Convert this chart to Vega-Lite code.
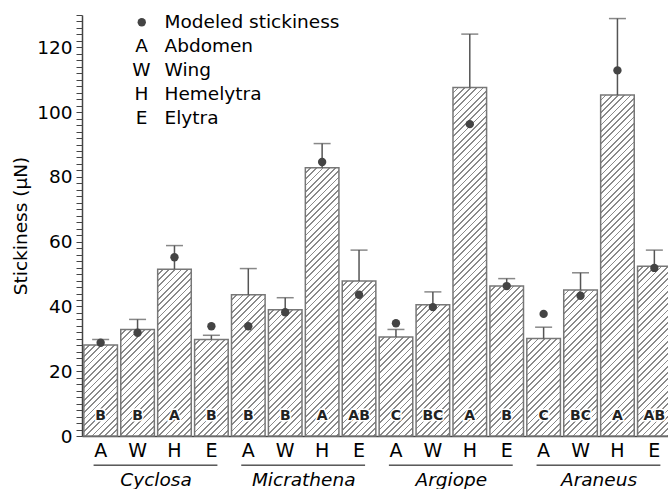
{
  "$schema": "https://vega.github.io/schema/vega-lite/v6.json",
  "width": 586,
  "height": 421,
  "autosize": {"type": "none"},
  "padding": {"left": 82, "top": 15, "right": 0, "bottom": 53},
  "background": "white",
  "config": {"view": {"stroke": null}, "font": "DejaVu Sans"},
  "params": [
    {
      "name": "hatch",
      "value": [
        {"offset":0,"color":"#fff"},{"offset":0.01125,"color":"#fff"},{"offset":0.01125,"color":"#8a8a8a"},{"offset":0.015625,"color":"#8a8a8a"},
        {"offset":0.015625,"color":"#fff"},{"offset":0.026875,"color":"#fff"},{"offset":0.026875,"color":"#8a8a8a"},{"offset":0.03125,"color":"#8a8a8a"},
        {"offset":0.03125,"color":"#fff"},{"offset":0.0425,"color":"#fff"},{"offset":0.0425,"color":"#8a8a8a"},{"offset":0.046875,"color":"#8a8a8a"},
        {"offset":0.046875,"color":"#fff"},{"offset":0.058125,"color":"#fff"},{"offset":0.058125,"color":"#8a8a8a"},{"offset":0.0625,"color":"#8a8a8a"},
        {"offset":0.0625,"color":"#fff"},{"offset":0.07375,"color":"#fff"},{"offset":0.07375,"color":"#8a8a8a"},{"offset":0.078125,"color":"#8a8a8a"},
        {"offset":0.078125,"color":"#fff"},{"offset":0.089375,"color":"#fff"},{"offset":0.089375,"color":"#8a8a8a"},{"offset":0.09375,"color":"#8a8a8a"},
        {"offset":0.09375,"color":"#fff"},{"offset":0.105,"color":"#fff"},{"offset":0.105,"color":"#8a8a8a"},{"offset":0.109375,"color":"#8a8a8a"},
        {"offset":0.109375,"color":"#fff"},{"offset":0.120625,"color":"#fff"},{"offset":0.120625,"color":"#8a8a8a"},{"offset":0.125,"color":"#8a8a8a"},
        {"offset":0.125,"color":"#fff"},{"offset":0.13625,"color":"#fff"},{"offset":0.13625,"color":"#8a8a8a"},{"offset":0.140625,"color":"#8a8a8a"},
        {"offset":0.140625,"color":"#fff"},{"offset":0.151875,"color":"#fff"},{"offset":0.151875,"color":"#8a8a8a"},{"offset":0.15625,"color":"#8a8a8a"},
        {"offset":0.15625,"color":"#fff"},{"offset":0.1675,"color":"#fff"},{"offset":0.1675,"color":"#8a8a8a"},{"offset":0.171875,"color":"#8a8a8a"},
        {"offset":0.171875,"color":"#fff"},{"offset":0.183125,"color":"#fff"},{"offset":0.183125,"color":"#8a8a8a"},{"offset":0.1875,"color":"#8a8a8a"},
        {"offset":0.1875,"color":"#fff"},{"offset":0.19875,"color":"#fff"},{"offset":0.19875,"color":"#8a8a8a"},{"offset":0.203125,"color":"#8a8a8a"},
        {"offset":0.203125,"color":"#fff"},{"offset":0.214375,"color":"#fff"},{"offset":0.214375,"color":"#8a8a8a"},{"offset":0.21875,"color":"#8a8a8a"},
        {"offset":0.21875,"color":"#fff"},{"offset":0.23,"color":"#fff"},{"offset":0.23,"color":"#8a8a8a"},{"offset":0.234375,"color":"#8a8a8a"},
        {"offset":0.234375,"color":"#fff"},{"offset":0.245625,"color":"#fff"},{"offset":0.245625,"color":"#8a8a8a"},{"offset":0.25,"color":"#8a8a8a"},
        {"offset":0.25,"color":"#fff"},{"offset":0.26125,"color":"#fff"},{"offset":0.26125,"color":"#8a8a8a"},{"offset":0.265625,"color":"#8a8a8a"},
        {"offset":0.265625,"color":"#fff"},{"offset":0.276875,"color":"#fff"},{"offset":0.276875,"color":"#8a8a8a"},{"offset":0.28125,"color":"#8a8a8a"},
        {"offset":0.28125,"color":"#fff"},{"offset":0.2925,"color":"#fff"},{"offset":0.2925,"color":"#8a8a8a"},{"offset":0.296875,"color":"#8a8a8a"},
        {"offset":0.296875,"color":"#fff"},{"offset":0.308125,"color":"#fff"},{"offset":0.308125,"color":"#8a8a8a"},{"offset":0.3125,"color":"#8a8a8a"},
        {"offset":0.3125,"color":"#fff"},{"offset":0.32375,"color":"#fff"},{"offset":0.32375,"color":"#8a8a8a"},{"offset":0.328125,"color":"#8a8a8a"},
        {"offset":0.328125,"color":"#fff"},{"offset":0.339375,"color":"#fff"},{"offset":0.339375,"color":"#8a8a8a"},{"offset":0.34375,"color":"#8a8a8a"},
        {"offset":0.34375,"color":"#fff"},{"offset":0.355,"color":"#fff"},{"offset":0.355,"color":"#8a8a8a"},{"offset":0.359375,"color":"#8a8a8a"},
        {"offset":0.359375,"color":"#fff"},{"offset":0.370625,"color":"#fff"},{"offset":0.370625,"color":"#8a8a8a"},{"offset":0.375,"color":"#8a8a8a"},
        {"offset":0.375,"color":"#fff"},{"offset":0.38625,"color":"#fff"},{"offset":0.38625,"color":"#8a8a8a"},{"offset":0.390625,"color":"#8a8a8a"},
        {"offset":0.390625,"color":"#fff"},{"offset":0.401875,"color":"#fff"},{"offset":0.401875,"color":"#8a8a8a"},{"offset":0.40625,"color":"#8a8a8a"},
        {"offset":0.40625,"color":"#fff"},{"offset":0.4175,"color":"#fff"},{"offset":0.4175,"color":"#8a8a8a"},{"offset":0.421875,"color":"#8a8a8a"},
        {"offset":0.421875,"color":"#fff"},{"offset":0.433125,"color":"#fff"},{"offset":0.433125,"color":"#8a8a8a"},{"offset":0.4375,"color":"#8a8a8a"},
        {"offset":0.4375,"color":"#fff"},{"offset":0.44875,"color":"#fff"},{"offset":0.44875,"color":"#8a8a8a"},{"offset":0.453125,"color":"#8a8a8a"},
        {"offset":0.453125,"color":"#fff"},{"offset":0.464375,"color":"#fff"},{"offset":0.464375,"color":"#8a8a8a"},{"offset":0.46875,"color":"#8a8a8a"},
        {"offset":0.46875,"color":"#fff"},{"offset":0.48,"color":"#fff"},{"offset":0.48,"color":"#8a8a8a"},{"offset":0.484375,"color":"#8a8a8a"},
        {"offset":0.484375,"color":"#fff"},{"offset":0.495625,"color":"#fff"},{"offset":0.495625,"color":"#8a8a8a"},{"offset":0.5,"color":"#8a8a8a"},
        {"offset":0.5,"color":"#fff"},{"offset":0.51125,"color":"#fff"},{"offset":0.51125,"color":"#8a8a8a"},{"offset":0.515625,"color":"#8a8a8a"},
        {"offset":0.515625,"color":"#fff"},{"offset":0.526875,"color":"#fff"},{"offset":0.526875,"color":"#8a8a8a"},{"offset":0.53125,"color":"#8a8a8a"},
        {"offset":0.53125,"color":"#fff"},{"offset":0.5425,"color":"#fff"},{"offset":0.5425,"color":"#8a8a8a"},{"offset":0.546875,"color":"#8a8a8a"},
        {"offset":0.546875,"color":"#fff"},{"offset":0.558125,"color":"#fff"},{"offset":0.558125,"color":"#8a8a8a"},{"offset":0.5625,"color":"#8a8a8a"},
        {"offset":0.5625,"color":"#fff"},{"offset":0.57375,"color":"#fff"},{"offset":0.57375,"color":"#8a8a8a"},{"offset":0.578125,"color":"#8a8a8a"},
        {"offset":0.578125,"color":"#fff"},{"offset":0.589375,"color":"#fff"},{"offset":0.589375,"color":"#8a8a8a"},{"offset":0.59375,"color":"#8a8a8a"},
        {"offset":0.59375,"color":"#fff"},{"offset":0.605,"color":"#fff"},{"offset":0.605,"color":"#8a8a8a"},{"offset":0.609375,"color":"#8a8a8a"},
        {"offset":0.609375,"color":"#fff"},{"offset":0.620625,"color":"#fff"},{"offset":0.620625,"color":"#8a8a8a"},{"offset":0.625,"color":"#8a8a8a"},
        {"offset":0.625,"color":"#fff"},{"offset":0.63625,"color":"#fff"},{"offset":0.63625,"color":"#8a8a8a"},{"offset":0.640625,"color":"#8a8a8a"},
        {"offset":0.640625,"color":"#fff"},{"offset":0.651875,"color":"#fff"},{"offset":0.651875,"color":"#8a8a8a"},{"offset":0.65625,"color":"#8a8a8a"},
        {"offset":0.65625,"color":"#fff"},{"offset":0.6675,"color":"#fff"},{"offset":0.6675,"color":"#8a8a8a"},{"offset":0.671875,"color":"#8a8a8a"},
        {"offset":0.671875,"color":"#fff"},{"offset":0.683125,"color":"#fff"},{"offset":0.683125,"color":"#8a8a8a"},{"offset":0.6875,"color":"#8a8a8a"},
        {"offset":0.6875,"color":"#fff"},{"offset":0.69875,"color":"#fff"},{"offset":0.69875,"color":"#8a8a8a"},{"offset":0.703125,"color":"#8a8a8a"},
        {"offset":0.703125,"color":"#fff"},{"offset":0.714375,"color":"#fff"},{"offset":0.714375,"color":"#8a8a8a"},{"offset":0.71875,"color":"#8a8a8a"},
        {"offset":0.71875,"color":"#fff"},{"offset":0.73,"color":"#fff"},{"offset":0.73,"color":"#8a8a8a"},{"offset":0.734375,"color":"#8a8a8a"},
        {"offset":0.734375,"color":"#fff"},{"offset":0.745625,"color":"#fff"},{"offset":0.745625,"color":"#8a8a8a"},{"offset":0.75,"color":"#8a8a8a"},
        {"offset":0.75,"color":"#fff"},{"offset":0.76125,"color":"#fff"},{"offset":0.76125,"color":"#8a8a8a"},{"offset":0.765625,"color":"#8a8a8a"},
        {"offset":0.765625,"color":"#fff"},{"offset":0.776875,"color":"#fff"},{"offset":0.776875,"color":"#8a8a8a"},{"offset":0.78125,"color":"#8a8a8a"},
        {"offset":0.78125,"color":"#fff"},{"offset":0.7925,"color":"#fff"},{"offset":0.7925,"color":"#8a8a8a"},{"offset":0.796875,"color":"#8a8a8a"},
        {"offset":0.796875,"color":"#fff"},{"offset":0.808125,"color":"#fff"},{"offset":0.808125,"color":"#8a8a8a"},{"offset":0.8125,"color":"#8a8a8a"},
        {"offset":0.8125,"color":"#fff"},{"offset":0.82375,"color":"#fff"},{"offset":0.82375,"color":"#8a8a8a"},{"offset":0.828125,"color":"#8a8a8a"},
        {"offset":0.828125,"color":"#fff"},{"offset":0.839375,"color":"#fff"},{"offset":0.839375,"color":"#8a8a8a"},{"offset":0.84375,"color":"#8a8a8a"},
        {"offset":0.84375,"color":"#fff"},{"offset":0.855,"color":"#fff"},{"offset":0.855,"color":"#8a8a8a"},{"offset":0.859375,"color":"#8a8a8a"},
        {"offset":0.859375,"color":"#fff"},{"offset":0.870625,"color":"#fff"},{"offset":0.870625,"color":"#8a8a8a"},{"offset":0.875,"color":"#8a8a8a"},
        {"offset":0.875,"color":"#fff"},{"offset":0.88625,"color":"#fff"},{"offset":0.88625,"color":"#8a8a8a"},{"offset":0.890625,"color":"#8a8a8a"},
        {"offset":0.890625,"color":"#fff"},{"offset":0.901875,"color":"#fff"},{"offset":0.901875,"color":"#8a8a8a"},{"offset":0.90625,"color":"#8a8a8a"},
        {"offset":0.90625,"color":"#fff"},{"offset":0.9175,"color":"#fff"},{"offset":0.9175,"color":"#8a8a8a"},{"offset":0.921875,"color":"#8a8a8a"},
        {"offset":0.921875,"color":"#fff"},{"offset":0.933125,"color":"#fff"},{"offset":0.933125,"color":"#8a8a8a"},{"offset":0.9375,"color":"#8a8a8a"},
        {"offset":0.9375,"color":"#fff"},{"offset":0.94875,"color":"#fff"},{"offset":0.94875,"color":"#8a8a8a"},{"offset":0.953125,"color":"#8a8a8a"},
        {"offset":0.953125,"color":"#fff"},{"offset":0.964375,"color":"#fff"},{"offset":0.964375,"color":"#8a8a8a"},{"offset":0.96875,"color":"#8a8a8a"},
        {"offset":0.96875,"color":"#fff"},{"offset":0.98,"color":"#fff"},{"offset":0.98,"color":"#8a8a8a"},{"offset":0.984375,"color":"#8a8a8a"},
        {"offset":0.984375,"color":"#fff"},{"offset":0.995625,"color":"#fff"},{"offset":0.995625,"color":"#8a8a8a"},{"offset":1,"color":"#8a8a8a"}
      ]
    }
  ],
  "datasets": {
    "bars": [
      {"species": "Cyclosa", "part": "A", "key": "Cyclosa A", "stick": 28.1, "err": 29.8, "model": 28.8, "sig": "B"},
      {"species": "Cyclosa", "part": "W", "key": "Cyclosa W", "stick": 32.9, "err": 36.0, "model": 31.9, "sig": "B"},
      {"species": "Cyclosa", "part": "H", "key": "Cyclosa H", "stick": 51.5, "err": 58.8, "model": 55.2, "sig": "A"},
      {"species": "Cyclosa", "part": "E", "key": "Cyclosa E", "stick": 29.8, "err": 31.1, "model": 33.9, "sig": "B"},
      {"species": "Micrathena", "part": "A", "key": "Micrathena A", "stick": 43.6, "err": 51.7, "model": 33.9, "sig": "B"},
      {"species": "Micrathena", "part": "W", "key": "Micrathena W", "stick": 39.0, "err": 42.7, "model": 38.2, "sig": "B"},
      {"species": "Micrathena", "part": "H", "key": "Micrathena H", "stick": 82.8, "err": 90.3, "model": 84.6, "sig": "A"},
      {"species": "Micrathena", "part": "E", "key": "Micrathena E", "stick": 47.9, "err": 57.4, "model": 43.6, "sig": "AB"},
      {"species": "Argiope", "part": "A", "key": "Argiope A", "stick": 30.6, "err": 32.9, "model": 34.8, "sig": "C"},
      {"species": "Argiope", "part": "W", "key": "Argiope W", "stick": 40.5, "err": 44.5, "model": 39.8, "sig": "BC"},
      {"species": "Argiope", "part": "H", "key": "Argiope H", "stick": 107.6, "err": 124.1, "model": 96.3, "sig": "A"},
      {"species": "Argiope", "part": "E", "key": "Argiope E", "stick": 46.3, "err": 48.6, "model": 46.3, "sig": "B"},
      {"species": "Araneus", "part": "A", "key": "Araneus A", "stick": 30.1, "err": 33.6, "model": 37.7, "sig": "C"},
      {"species": "Araneus", "part": "W", "key": "Araneus W", "stick": 45.1, "err": 50.4, "model": 43.3, "sig": "BC"},
      {"species": "Araneus", "part": "H", "key": "Araneus H", "stick": 105.3, "err": 128.9, "model": 112.9, "sig": "A"},
      {"species": "Araneus", "part": "E", "key": "Araneus E", "stick": 52.4, "err": 57.4, "model": 51.9, "sig": "AB"}
    ],
    "groups": [
      {"species": "Cyclosa", "first": "Cyclosa A", "mid": "Cyclosa W", "last": "Cyclosa E"},
      {"species": "Micrathena", "first": "Micrathena A", "mid": "Micrathena W", "last": "Micrathena E"},
      {"species": "Argiope", "first": "Argiope A", "mid": "Argiope W", "last": "Argiope E"},
      {"species": "Araneus", "first": "Araneus A", "mid": "Araneus W", "last": "Araneus E"}
    ]
  },
  "layer": [
    {
      "data": {"name": "bars"},
      "mark": {
        "type": "bar",
        "fill": {"expr": "{gradient: 'linear', x1: 0, y1: 0, x2: 400 * bandwidth('x') / (pow(bandwidth('x'), 2) + pow(scale('y', 0) - scale('y', datum.stick), 2)), y2: 400 * (scale('y', 0) - scale('y', datum.stick)) / (pow(bandwidth('x'), 2) + pow(scale('y', 0) - scale('y', datum.stick), 2)), stops: hatch}"},
        "stroke": "#777",
        "strokeWidth": 1.5
      },
      "encoding": {
        "x": {
          "field": "key",
          "type": "nominal",
          "scale": {
            "domain": ["Cyclosa A", "Cyclosa W", "Cyclosa H", "Cyclosa E", "Micrathena A", "Micrathena W", "Micrathena H", "Micrathena E", "Argiope A", "Argiope W", "Argiope H", "Argiope E", "Araneus A", "Araneus W", "Araneus H", "Araneus E"],
            "range": [0, 591],
            "paddingInner": 0.09,
            "paddingOuter": 0.05
          },
          "axis": {
            "title": null,
            "labelExpr": "split(datum.label, ' ')[1]",
            "labelAngle": 0,
            "ticks": false,
            "labelPadding": 5,
            "labelFontSize": 19,
            "labelColor": "#000",
            "domainColor": "#444",
            "domainWidth": 1.5
          }
        },
        "y": {
          "field": "stick",
          "type": "quantitative",
          "scale": {"domain": [0, 130], "nice": false},
          "axis": {
            "title": "Stickiness (μN)",
            "titleFontSize": 18.5,
            "titleFontWeight": "normal",
            "titleColor": "#000",
            "titlePadding": 6,
            "tickCount": 65,
            "labelExpr": "datum.value % 20 === 0 ? datum.label : ''",
            "labelOverlap": false,
            "labelFontSize": 18.5,
            "labelColor": "#000",
            "labelPadding": 4,
            "tickSize": 6,
            "tickColor": "#444",
            "tickWidth": 1,
            "domainColor": "#444",
            "domainWidth": 1.5,
            "grid": false,
            "encode": {"ticks": {"update": {"x2": {"signal": "datum.value % 20 === 0 ? -6 : -3"}}}}
          }
        }
      }
    },
    {
      "data": {"name": "bars"},
      "mark": {"type": "rule", "color": "#555", "strokeWidth": 1.5},
      "encoding": {
        "x": {"field": "key", "type": "nominal"},
        "y": {"field": "stick", "type": "quantitative"},
        "y2": {"field": "err"}
      }
    },
    {
      "data": {"name": "bars"},
      "mark": {"type": "tick", "color": "#555", "thickness": 1.5, "size": 17},
      "encoding": {
        "x": {"field": "key", "type": "nominal"},
        "y": {"field": "err", "type": "quantitative"}
      }
    },
    {
      "data": {"name": "bars"},
      "mark": {"type": "point", "filled": true, "size": 70, "opacity": 1, "strokeWidth": 0},
      "encoding": {
        "x": {"field": "key", "type": "nominal"},
        "y": {"field": "model", "type": "quantitative"},
        "shape": {
          "datum": "●",
          "type": "nominal",
          "scale": {"domain": ["●", "A", "W", "H", "E"], "range": ["circle", "M0,0", "M0,0", "M0,0", "M0,0"]},
          "legend": {
            "orient": "none",
            "legendX": 50.5,
            "legendY": -2,
            "title": null,
            "padding": 0,
            "labelExpr": "datum.label === '●' ? '' : datum.label",
            "labelAlign": "center",
            "labelOffset": -9.5,
            "labelFontSize": 18.5,
            "labelColor": "#000",
            "symbolSize": 70,
            "symbolFillColor": "#444",
            "symbolStrokeWidth": 0,
            "rowPadding": 5
          }
        },
        "color": {
          "datum": "Modeled stickiness",
          "type": "nominal",
          "scale": {"domain": ["Modeled stickiness", "Abdomen", "Wing", "Hemelytra", "Elytra"], "range": ["#444", "#444", "#444", "#444", "#444"]},
          "legend": {
            "orient": "none",
            "legendX": 50.5,
            "legendY": -2,
            "title": null,
            "padding": 0,
            "labelOffset": 13.5,
            "labelLimit": 400,
            "labelFontSize": 18.5,
            "labelColor": "#000",
            "symbolSize": 70,
            "symbolOpacity": 0,
            "symbolStrokeWidth": 0,
            "rowPadding": 5
          }
        }
      }
    },
    {
      "data": {"name": "bars"},
      "mark": {"type": "text", "fontSize": 14, "fontWeight": "bold", "baseline": "middle", "dy": -20, "color": "white", "stroke": "white", "strokeWidth": 3},
      "encoding": {
        "x": {"field": "key", "type": "nominal"},
        "y": {"datum": 0},
        "text": {"field": "sig"}
      }
    },
    {
      "data": {"name": "bars"},
      "mark": {"type": "text", "fontSize": 14, "fontWeight": "bold", "baseline": "middle", "dy": -20, "color": "#222"},
      "encoding": {
        "x": {"field": "key", "type": "nominal"},
        "y": {"datum": 0},
        "text": {"field": "sig"}
      }
    },
    {
      "data": {"name": "groups"},
      "mark": {"type": "rule", "color": "#000", "strokeWidth": 1},
      "encoding": {
        "x": {"field": "first", "type": "nominal", "bandPosition": 0.29},
        "x2": {"field": "last", "bandPosition": 0.68},
        "y": {"datum": -9}
      }
    },
    {
      "data": {"name": "groups"},
      "mark": {"type": "text", "fontStyle": "italic", "fontSize": 18.5, "baseline": "alphabetic", "color": "#000"},
      "encoding": {
        "x": {"field": "mid", "type": "nominal", "bandPosition": 1.05},
        "y": {"datum": -15.3},
        "text": {"field": "species"}
      }
    }
  ]
}
